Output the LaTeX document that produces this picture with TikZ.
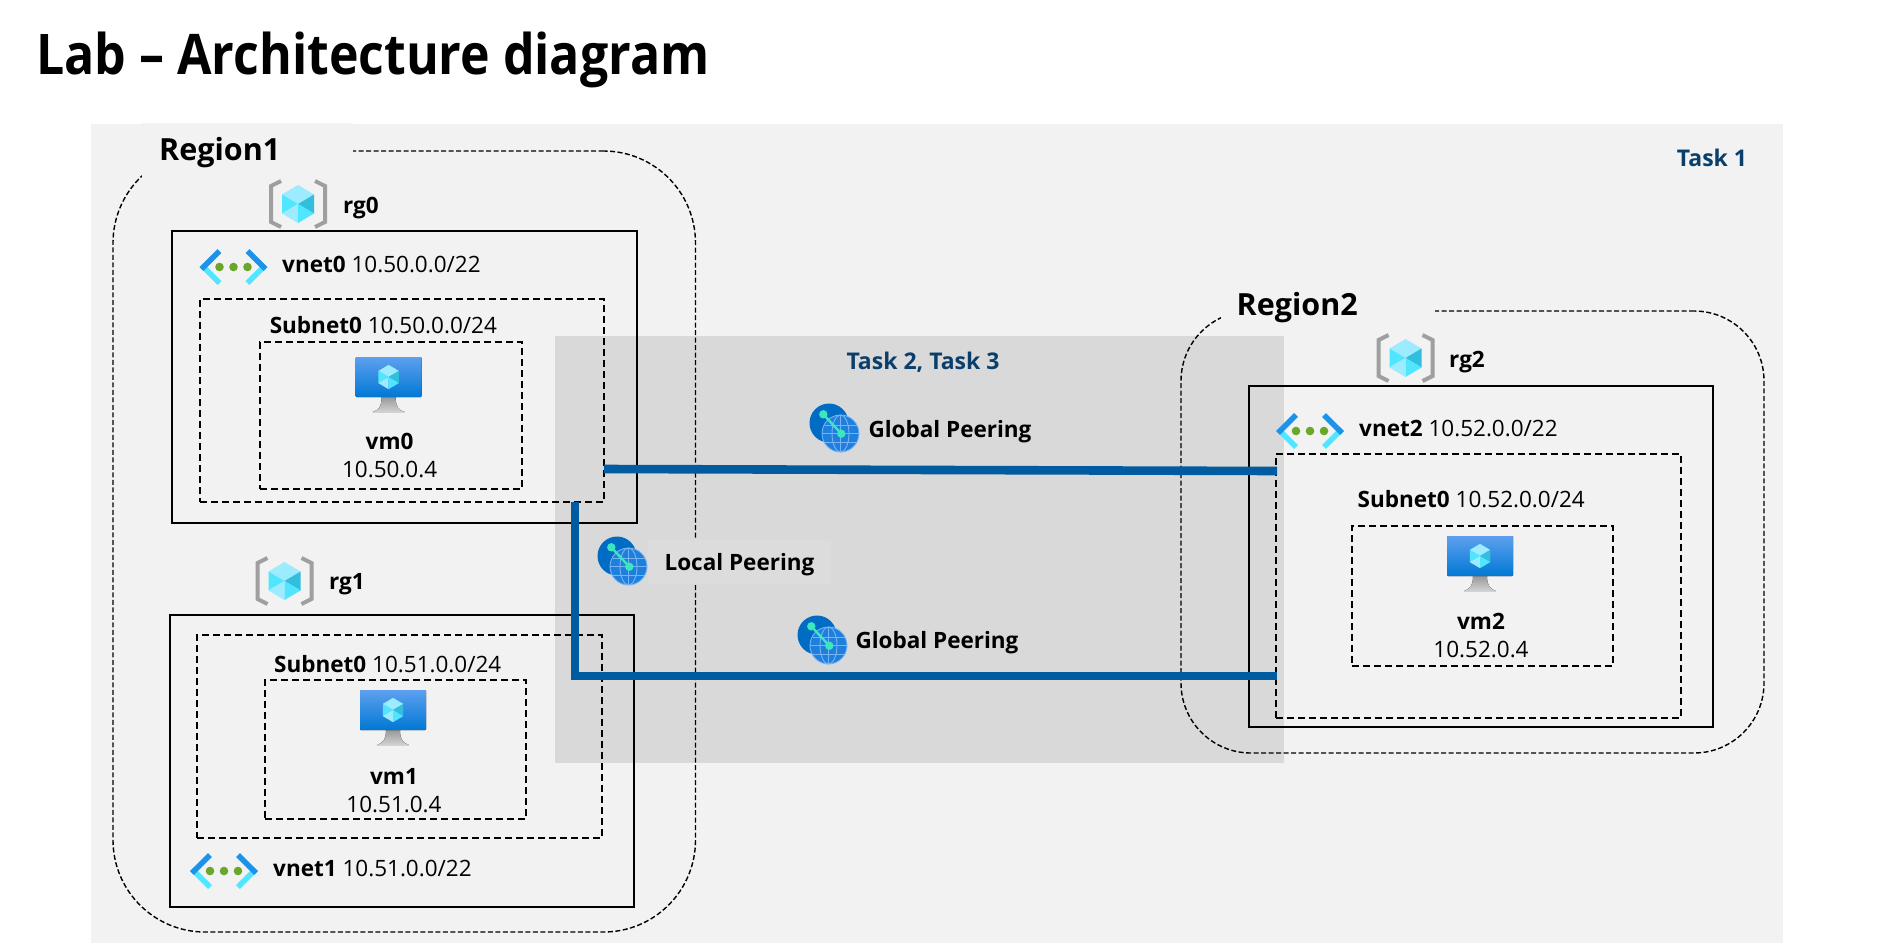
\documentclass[tikz,border=0pt]{standalone}
\usepackage{fontspec}
\setmainfont{Open Sans}
\definecolor{panelgray}{HTML}{F2F2F2}
\definecolor{taskgray}{HTML}{D9D9D9}
\definecolor{localgray}{HTML}{DCDCDC}
\definecolor{peerblue}{HTML}{005BA1}
\definecolor{tasktext}{HTML}{0B3F6B}
\definecolor{cubelight}{HTML}{9CEBFF}
\definecolor{cubemid}{HTML}{50E6FF}
\definecolor{cubedark}{HTML}{32BEDD}
\tikzset{
	netbox/.style={draw=black,line width=1.7pt,inner sep=0pt},
	subnetbox/.style={draw=black,line width=1.7pt,dash pattern=on 7pt off 4pt,inner sep=0pt},
	regionbox/.style={draw=black,line width=1.4pt,dash pattern=on 5pt off 2.5pt,inner sep=0pt},
	regionlabel/.style={fill=panelgray,anchor=west,align=left,inner ysep=0pt,font=\fontsize{30.5pt}{34pt}\selectfont\bfseries},
	lbl/.style={inner sep=0pt,font=\fontsize{22.5pt}{26pt}\selectfont},
	tasklbl/.style={lbl,text=tasktext,font=\fontsize{23pt}{26pt}\selectfont\bfseries},
	peerline/.style={peerblue,line width=8.6pt},
	cubeicon/.pic={
		\fill[cubelight] (-16,-9.5) -- (0,-19) -- (16,-9.5) -- (0,0) -- cycle;
		\fill[cubemid] (-16,-9.5) -- (0,0) -- (-16,9.5) -- cycle;
		\fill[cubelight] (-16,9.5) -- (0,0) -- (0,19) -- cycle;
		\fill[cubedark] (16,-9.5) -- (16,9.5) -- (0,0) -- cycle;
		\fill[cubemid] (16,9.5) -- (0,19) -- (0,0) -- cycle;
	},
	rgicon/.pic={
		\draw[gray!75,line width=4pt] (-17,-23) -- (-27,-18) -- (-27,18) -- (-17,23);
		\draw[gray!75,line width=4pt] (17,-23) -- (27,-18) -- (27,18) -- (17,23);
		\pic {cubeicon};
	},
	vneticon/.pic={
		\foreach \s in {-1,1} {
			\draw[cubemid,line width=5.5pt] (\s*32,-2) -- (\s*14,16);
			\draw[color={rgb,255:red,27;green,147;blue,235},line width=5.5pt] (\s*32,2) -- (\s*14,-16);
		}
		\foreach \dx in {-14,0,14}
			\fill[color={rgb,255:red,106;green,166;blue,42}] (\dx,0) circle (4.3);
	},
	vmicon/.pic={
		\fill[top color=gray!80,bottom color=gray!35] (-7,20) -- (7,20) .. controls (7,30) and (10,33) .. (16,35) -- (-16,35) .. controls (-10,33) and (-7,30) .. (-7,20) -- cycle;
		\fill[rounded corners=1pt,top color={rgb,255:red,94;green,160;blue,239},bottom color={rgb,255:red,0;green,120;blue,212}] (-33,-20) rectangle (33,20);
		\pic[scale=.64] {cubeicon};
	},
	peericon/.pic={
		\fill[color={rgb,255:red,0;green,108;blue,196}] (0,0) circle (19.5);
		\fill[color={rgb,255:red,30;green,127;blue,220}] (11.5,10.5) circle (18.5);
		\begin{scope}[shift={(11.5,10.5)},color={rgb,255:red,120;green,180;blue,245},line width=.9pt]
			\draw (0,0) circle (18.5);
			\draw (0,0) ellipse (8.5 and 18.5);
			\draw (0,-18.5) -- (0,18.5);
			\draw (-18.5,0) -- (18.5,0);
			\draw (-16,-8.5) -- (16,-8.5);
			\draw (-16,8.5) -- (16,8.5);
		\end{scope}
		\draw[color={rgb,255:red,60;green,230;blue,190},line width=2.4pt] (-5.7,-8.7) -- (12.3,10.7);
		\fill[color={rgb,255:red,60;green,230;blue,190}] (-5.7,-8.7) circle (4.2);
		\fill[color={rgb,255:red,60;green,230;blue,190}] (12.3,10.7) circle (4.2);
	}
}
\begin{document}
\begin{tikzpicture}[x=1pt,y=-1pt]
	\useasboundingbox (0,0) rectangle (1896,943);
	\fill[white] (0,0) rectangle (1896,943);
	\fill[panelgray] (91,124) rectangle (1783,943);
	\node[anchor=base west,inner sep=0pt,font=\fontsize{56pt}{62pt}\selectfont\bfseries] (title) at (36,74) {\scalebox{.893}[1]{Lab -- Architecture diagram}};
	\fill[taskgray] (555,336) rectangle (1284,763);

	% regions
	\node[regionbox,rounded corners=92pt,minimum width=582.5pt,minimum height=781pt] (region1) at (404.25,541.5) {};
	\node[regionbox,rounded corners=70pt,minimum width=583pt,minimum height=442pt] (region2) at (1472.5,532) {};
	\node[regionlabel,inner xsep=17pt,text width=177pt,minimum height=54pt,text height=26pt,text depth=6pt] (region1lbl) at (142,150) {Region1};
	\node[regionlabel,inner xsep=15.5pt,text width=183pt,text height=24pt,text depth=7pt] (region2lbl) at (1221,307) {Region2};

	% vnets and subnets
	\node[netbox,minimum width=465pt,minimum height=292pt] (vnet0) at (404.5,377) {};
	\node[netbox,minimum width=464pt,minimum height=292pt] (vnet1) at (402,761) {};
	\node[netbox,minimum width=464pt,minimum height=341pt] (vnet2) at (1481,556.5) {};
	\node[subnetbox,minimum width=404pt,minimum height=203pt] (subnet0) at (402,400.5) {};
	\node[subnetbox,minimum width=405pt,minimum height=203pt] (subnet1) at (399.5,736.5) {};
	\node[subnetbox,minimum width=405pt,minimum height=264pt] (subnet2) at (1478.5,586) {};
	\node[subnetbox,minimum width=262pt,minimum height=147pt] (vmbox0) at (391,415.5) {};
	\node[subnetbox,minimum width=261pt,minimum height=139pt] (vmbox1) at (395.5,749.5) {};
	\node[subnetbox,minimum width=261pt,minimum height=140pt] (vmbox2) at (1482.5,596) {};

	% icons
	\foreach \x/\y in {298/204,284.5/581,1405.5/358}
		\pic at (\x,\y) {rgicon};
	\foreach \x/\y in {233.5/267,224/871,1310/431}
		\pic at (\x,\y) {vneticon};
	\foreach \x/\y in {388.6/377,393/710,1480/556}
		\pic at (\x,\y) {vmicon};
	\foreach \x/\y in {829/423,817/635,617/556}
		\pic at (\x,\y) {peericon};

	% texts
	\foreach \n/\x/\y in {0/361/208,1/347/584,2/1467/362}
		\node[lbl] (rglbl\n) at (\x,\y) {\textbf{rg\n}};
	\node[lbl,anchor=west] (vnet0lbl) at (282,264) {\textbf{vnet0} 10.50.0.0/22};
	\node[lbl,anchor=west] (vnet1lbl) at (273,868) {\textbf{vnet1} 10.51.0.0/22};
	\node[lbl,anchor=west] (vnet2lbl) at (1359,428) {\textbf{vnet2} 10.52.0.0/22};
	\node[lbl,anchor=west] (subnet0lbl) at (269.6,325) {\textbf{Subnet0} 10.50.0.0/24};
	\node[lbl,anchor=west] (subnet1lbl) at (274,664) {\textbf{Subnet0} 10.51.0.0/24};
	\node[lbl,anchor=west] (subnet2lbl) at (1357.5,499) {\textbf{Subnet0} 10.52.0.0/24};
	\foreach \n/\x/\y/\ip in {0/389.6/441/10.50.0.4,1/394/776/10.51.0.4,2/1481/621/10.52.0.4} {
		\node[lbl] (vmname\n) at (\x,\y) {\textbf{vm\n}};
		\node[lbl] (vmip\n) at (\x,\y+28) {\ip};
	}

	\node[tasklbl] (task1) at (1712,158) {Task 1};
	\node[tasklbl] (task23) at (923,362) {Task 2, Task 3};
	\node[lbl,fill=localgray,inner sep=0pt,minimum width=183pt,minimum height=44pt,text height=23pt,text depth=5.6pt] (localbg) at (739.5,562) {\textbf{Local Peering}};
	\node[lbl] (global0) at (950,432) {\textbf{Global Peering}};
	\node[lbl] (global1) at (937,643) {\textbf{Global Peering}};

	% peerings
	\coordinate (peer0a) at (604,469);
	\coordinate (peer2a) at (1277,471);
	\coordinate (peer0b) at (575,502);
	\coordinate (peer2b) at (1277,676);
	\draw[peerline] (peer0a) -- (peer2a);
	\draw[peerline] (peer0b) |- (peer2b);
\end{tikzpicture}
\end{document}
